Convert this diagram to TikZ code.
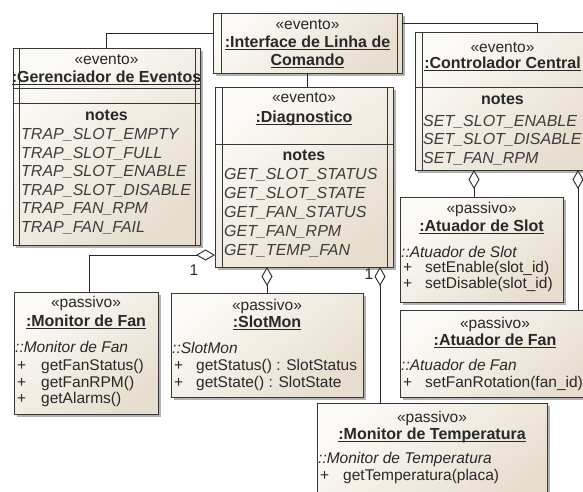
\documentclass[tikz,border=0pt]{standalone}
\usepackage{fontspec}
\setmainfont{Liberation Sans}
\usetikzlibrary{arrows.meta,shadows,calc}
\definecolor{boxlight}{RGB}{252,250,246}
\definecolor{boxdark}{RGB}{231,222,207}
\definecolor{edgecol}{RGB}{55,55,55}
\definecolor{txt}{RGB}{40,40,40}
\newsavebox\ulbox
\newcommand{\ulin}[1]{\sbox\ulbox{#1}\rlap{\rule[-2.6pt]{\wd\ulbox}{1pt}}\usebox\ulbox}
\tikzset{
  umlbox/.style={draw=edgecol, line width=0.9pt, top color=boxlight, bottom color=boxdark,
    shading angle=40, drop shadow={shadow xshift=2.5pt, shadow yshift=-2.5pt, opacity=0.3, fill=black},
    inner sep=0pt, outer sep=0pt, anchor=north west, rectangle},
  inline/.style={draw=edgecol, line width=0.9pt},
  conn/.style={draw=black!85, line width=0.9pt},
  agg/.style={conn, {Diamond[fill=white,length=19pt,width=11pt]}-},
  stereo/.style={inner sep=0pt, anchor=mid, text=txt, font=\fontsize{15.5}{17}\selectfont},
  ttl/.style={inner sep=0pt, anchor=mid, text=txt, font=\bfseries\fontsize{16}{18}\selectfont},
  notehead/.style={inner sep=0pt, anchor=mid, text=txt, font=\bfseries\fontsize{16}{18}\selectfont},
  noteitem/.style={inner sep=0pt, anchor=mid west, text=txt!90, font=\itshape\fontsize{16}{18}\selectfont},
  clsname/.style={inner sep=0pt, anchor=mid west, text=txt, font=\itshape\fontsize{15.5}{17}\selectfont},
  plus/.style={inner sep=0pt, anchor=mid west, text=txt, font=\fontsize{15.5}{17}\selectfont},
  meth/.style={inner sep=0pt, anchor=mid west, text=txt, font=\fontsize{15.5}{17}\selectfont},
  mult/.style={inner sep=0pt, anchor=mid, text=txt, font=\fontsize{15.5}{17}\selectfont},
}
\begin{document}
\begin{tikzpicture}[x=1pt,y=-1pt]
\path[use as bounding box] (0,0) rectangle (583,491);
\clip (0,0) rectangle (583,491);
\fill[white] (0,0) rectangle (583,491);

% ---------- boxes ----------
\node[umlbox, minimum width=187pt, minimum height=197pt] (G) at (13,48) {};
\node[umlbox, minimum width=189pt, minimum height=60pt] (I) at (213,13) {};
\node[umlbox, minimum width=175pt, minimum height=138pt] (C) at (415,32) {};
\node[umlbox, minimum width=178pt, minimum height=180pt] (D) at (215,87) {};
\node[umlbox, minimum width=144pt, minimum height=122pt] (MF) at (14,292) {};
\node[umlbox, minimum width=192pt, minimum height=104pt] (SM) at (171,293) {};
\node[umlbox, minimum width=230pt, minimum height=100pt] (MT) at (317,403) {};
\node[umlbox, minimum width=163pt, minimum height=105pt] (AS) at (400,197) {};
\node[umlbox, minimum width=190pt, minimum height=87pt] (AF) at (400,310) {};

% ---------- active-object double borders and compartments ----------
\draw[inline] ([xshift=6pt]G.north west) -- ([xshift=6pt]G.south west);
\draw[inline] ([xshift=-5pt]G.north east) -- ([xshift=-5pt]G.south east);
\draw[inline] ($(G.north west)+(0,40)$) -- ($(G.north east)+(0,40)$);
\draw[inline] ($(G.north west)+(0,55)$) -- ($(G.north east)+(0,55)$);

\draw[inline] ([xshift=8pt]I.north west) -- ([xshift=8pt]I.south west);
\draw[inline] ([xshift=-5pt]I.north east) -- ([xshift=-5pt]I.south east);

\draw[inline] ([xshift=7pt]D.north west) -- ([xshift=7pt]D.south west);
\draw[inline] ([xshift=-6pt]D.north east) -- ([xshift=-6pt]D.south east);
\draw[inline] ($(D.north west)+(0,57)$) -- ($(D.north east)+(0,57)$);

\draw[inline] ([xshift=7pt]C.north west) -- ([xshift=7pt]C.south west);
\draw[inline] ($(C.north west)+(0,55)$) -- ($(C.north east)+(0,55)$);

% ---------- texts: Gerenciador de Eventos ----------
\node[stereo] (Gs) at (106.5,62) {«evento»};
\node[ttl] (Gt) at (106.5,80) {\ulin{:Gerenciador de Eventos}};
\node[notehead] (Gn) at (106.5,118) {notes};
\node[noteitem] (Gi1) at (21,137) {TRAP\_SLOT\_EMPTY};
\node[noteitem] (Gi2) at (21,155.5) {TRAP\_SLOT\_FULL};
\node[noteitem] (Gi3) at (21,174) {TRAP\_SLOT\_ENABLE};
\node[noteitem] (Gi4) at (21,192.5) {TRAP\_SLOT\_DISABLE};
\node[noteitem] (Gi5) at (21,211) {TRAP\_FAN\_RPM};
\node[noteitem] (Gi6) at (21,229.5) {TRAP\_FAN\_FAIL};

% ---------- Interface de Linha de Comando ----------
\node[stereo] (Is) at (307.5,27) {«evento»};
\node[ttl] (It1) at (307.5,45) {\ulin{:Interface de Linha de}};
\node[ttl] (It2) at (307.5,63) {\ulin{Comando}};

% ---------- Diagnostico ----------
\node[stereo] (Ds) at (304,100) {«evento»};
\node[ttl] (Dt) at (304,120) {\ulin{:Diagnostico}};
\node[notehead] (Dn) at (304,158) {notes};
\node[noteitem] (Di1) at (224,177) {GET\_SLOT\_STATUS};
\node[noteitem] (Di2) at (224,196) {GET\_SLOT\_STATE};
\node[noteitem] (Di3) at (224,215) {GET\_FAN\_STATUS};
\node[noteitem] (Di4) at (224,234) {GET\_FAN\_RPM};
\node[noteitem] (Di5) at (224,253) {GET\_TEMP\_FAN};

% ---------- Controlador Central ----------
\node[stereo] (Cs) at (502.5,50) {«evento»};
\node[ttl] (Ct) at (502.5,66) {\ulin{:Controlador Central}};
\node[notehead] (Cn) at (502.5,102) {notes};
\node[noteitem] (Ci1) at (423,123.5) {SET\_SLOT\_ENABLE};
\node[noteitem] (Ci2) at (423,142) {SET\_SLOT\_DISABLE};
\node[noteitem] (Ci3) at (423,160.5) {SET\_FAN\_RPM};

% ---------- Monitor de Fan ----------
\node[stereo] (MFs) at (86,305) {«passivo»};
\node[ttl] (MFt) at (86,324) {\ulin{:Monitor de Fan}};
\node[clsname] (MFc) at (15,350) {::Monitor de Fan};
\node[plus] (MFp1) at (17,368) {+};
\node[meth] (MFm1) at (41,368) {getFanStatus()};
\node[plus] (MFp2) at (17,385) {+};
\node[meth] (MFm2) at (41,385) {getFanRPM()};
\node[plus] (MFp3) at (17,401) {+};
\node[meth] (MFm3) at (41,401) {getAlarms()};

% ---------- SlotMon ----------
\node[stereo] (SMs) at (267,308) {«passivo»};
\node[ttl] (SMt) at (267,325) {\ulin{:SlotMon}};
\node[clsname] (SMc) at (172,351) {::SlotMon};
\node[plus] (SMp1) at (174,368) {+};
\node[meth] (SMm1) at (196,368) {getStatus() : SlotStatus};
\node[plus] (SMp2) at (174,385) {+};
\node[meth] (SMm2) at (196,385) {getState() : SlotState};

% ---------- Monitor de Temperatura ----------
\node[stereo] (MTs) at (432,420) {«passivo»};
\node[ttl] (MTt) at (432,437) {\ulin{:Monitor de Temperatura}};
\node[clsname] (MTc) at (318,461) {::Monitor de Temperatura};
\node[plus] (MTp1) at (320,478) {+};
\node[meth] (MTm1) at (343,478) {getTemperatura(placa)};

% ---------- Atuador de Slot ----------
\node[stereo] (ASs) at (481.5,211) {«passivo»};
\node[ttl] (ASt) at (481.5,229) {\ulin{:Atuador de Slot}};
\node[clsname] (ASc) at (401,255) {::Atuador de Slot};
\node[plus] (ASp1) at (403,270) {+};
\node[meth] (ASm1) at (425,270) {setEnable(slot\_id)};
\node[plus] (ASp2) at (403,286) {+};
\node[meth] (ASm2) at (425,286) {setDisable(slot\_id)};

% ---------- Atuador de Fan ----------
\node[stereo] (AFs) at (495,326) {«passivo»};
\node[ttl] (AFt) at (495,343) {\ulin{:Atuador de Fan}};
\node[clsname] (AFc) at (401,368) {::Atuador de Fan};
\node[plus] (AFp1) at (403,385) {+};
\node[meth] (AFm1) at (425,385) {setFanRotation(fan\_id)};

% ---------- connectors ----------
\draw[conn] (G.north) |- ($(I.north west)+(0,20)$);
\draw[conn] (I.south) -- (I.south |- D.north);
\draw[conn] ($(I.north east)+(0,10)$) -| ($(C.north west)+(122,0)$);

\draw[agg] ($(D.south west)+(0,-12)$) -| ($(MF.north west)+(75,0)$);
\draw[agg] (D.south -| SM.north) -- (SM.north);
\coordinate (mtc) at ($(MT.north west)+(63,0)$);
\draw[agg] (D.south -| mtc) -- (mtc);
\coordinate (asc) at ($(AS.north west)+(74,0)$);
\draw[agg] (C.south -| asc) -- (asc);
\coordinate (afc) at ($(AF.north west)+(178,0)$);
\draw[agg] (C.south -| afc) -- (afc);

\node[mult] (m1) at (194,273) {1};
\node[mult] (m2) at (369,277) {1};
\end{tikzpicture}
\end{document}
